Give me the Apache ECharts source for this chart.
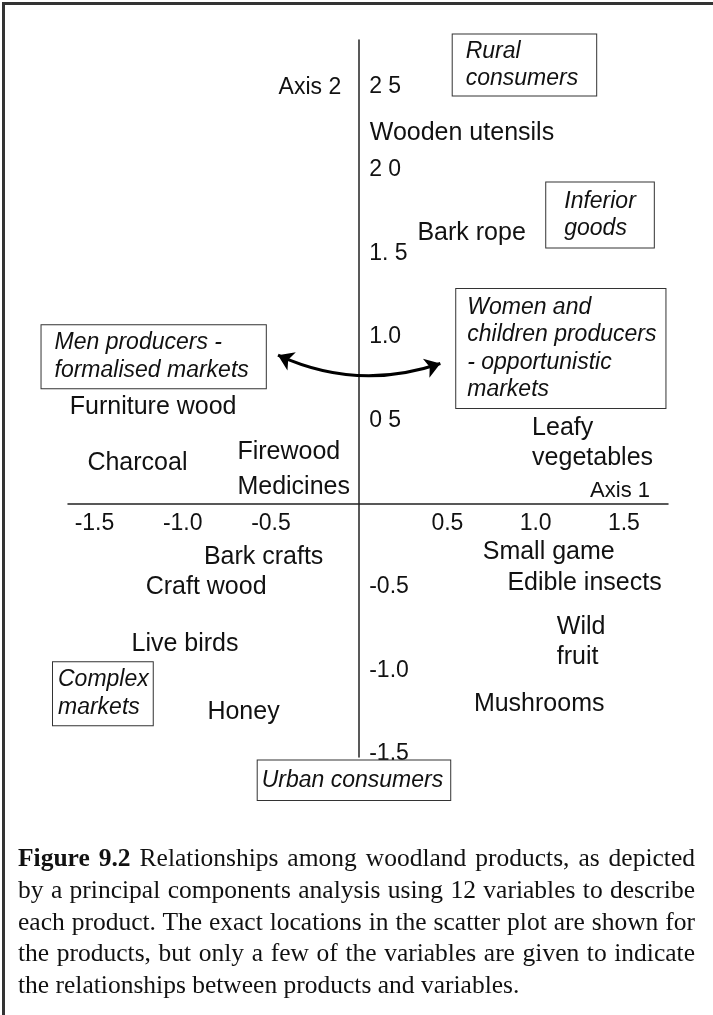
<!DOCTYPE html>
<html>
<head>
<meta charset="utf-8">
<script src="https://cdn.jsdelivr.net/npm/echarts@6/dist/echarts.min.js"></script>
<style>
  html, body { margin: 0; padding: 0; background: #fff; }
  #page { position: relative; width: 713px; height: 1015px; overflow: hidden; }
  #frame {
    position: absolute; left: 2px; top: 2px; right: -10px; bottom: -10px;
    border-top: 3px solid #333; border-left: 3px solid #333;
  }
  #chart { position: absolute; left: 0; top: 0; width: 713px; height: 1015px; }
  #caption {
    position: absolute; left: 18px; top: 842px; width: 677px;
    font-family: "Liberation Serif", "Times New Roman", serif;
    font-size: 25.5px; line-height: 31.8px; color: #111;
  }
  #caption div { text-align: justify; text-align-last: justify; white-space: nowrap; }
  #caption div.last { text-align-last: left; }
</style>
</head>
<body>
<div id="page">
  <div id="chart"></div>
  <div id="frame"></div>
  <div id="caption">
    <div><b>Figure 9.2</b> Relationships among woodland products, as depicted</div>
    <div>by a principal components analysis using 12 variables to describe</div>
    <div>each product. The exact locations in the scatter plot are shown for</div>
    <div>the products, but only a few of the variables are given to indicate</div>
    <div class="last">the relationships between products and variables.</div>
  </div>
</div>
<script>
// products: label text and PCA scores (axis 1, axis 2)
const products = ["Wooden utensils", "Bark rope", "Furniture wood", "Charcoal", "Firewood",
  "Medicines", "Leafy\nvegetables", "Bark crafts", "Craft wood", "Small game",
  "Edible insects", "Wild\nfruit", "Live birds", "Honey", "Mushrooms"];
const axis1 = [0.06, 0.33, -1.64, -1.54, -0.69, -0.69, 0.98, -0.88, -1.21, 0.70, 0.84, 1.12, -1.29, -0.86, 0.65];
const axis2 = [2.22, 1.62, 0.58, 0.24, 0.31, 0.10, 0.36, -0.32, -0.50, -0.29, -0.48, -0.83, -0.84, -1.25, -1.20];

// variables shown as boxed labels
const variables = ["Rural\nconsumers", "Inferior\ngoods", "Women and\nchildren producers\n- opportunistic\nmarkets",
  "Men producers -\nformalised markets", "Complex\nmarkets", "Urban consumers"];
const varAxis1 = [0.53, 1.06, 0.55, -1.80, -1.735, -0.575];
const varAxis2 = [2.63, 1.73, 0.93, 0.88, -1.14, -1.66];

// double arrow between the two producer groups
const arrowEnds = [[-0.46, 0.89], [0.46, 0.84]];

const xTicks = [-1.5, -1.0, -0.5, 0.5, 1.0, 1.5];
const xTickLabels = ["-1.5", "-1.0", "-0.5", "0.5", "1.0", "1.5"];
const yTicks = [2.5, 2.0, 1.5, 1.0, 0.5, -0.5, -1.0, -1.5];
const yTickLabels = ["2 5", "2 0", "1. 5", "1.0", "0 5", "-0.5", "-1.0", "-1.5"];

const sans = "'Liberation Sans', Arial, Helvetica, sans-serif";
const ink = "#111";

// box padding for each variable label [top, right, bottom, left]
const boxPadding = [[3, 18, 3, 13], [5, 18, 5, 18], [5, 9, 4, 11], [4, 17, 4, 13], [4, 4, 4, 5], [6, 7, 6, 4]];

const xMin = -1.65, xMax = 1.75, yMin = -1.52, yMax = 2.78;
const grid = { left: 68, right: 45, top: 40, bottom: 258 };
const plotW = 713 - grid.left - grid.right;
const plotH = 1015 - grid.top - grid.bottom;
// shift the axes so they cross at the origin, labels included
const yAxisOffset = -plotW * (0 - xMin) / (xMax - xMin);
const xAxisOffset = -plotH * (0 - yMin) / (yMax - yMin);

function tickText(ticks, labels) {
  return function (v) {
    const i = ticks.findIndex(t => Math.abs(t - v) < 1e-6);
    return i >= 0 ? labels[i] : "";
  };
}

const chart = echarts.init(document.getElementById("chart"));
chart.setOption({
  animation: false,
  backgroundColor: "transparent",
  grid: Object.assign({ outerBoundsMode: "none" }, grid),
  xAxis: {
    type: "value",
    min: xMin,
    max: xMax,
    offset: xAxisOffset,
    name: "Axis 1",
    nameLocation: "end",
    nameGap: -18,
    nameTextStyle: { fontFamily: sans, fontSize: 22, color: ink, align: "right", verticalAlign: "bottom", padding: [0, 0, 2, 0] },
    axisLine: { onZero: false, lineStyle: { color: "#222", width: 1.5 } },
    axisTick: { show: false },
    splitLine: { show: false },
    axisLabel: {
      customValues: xTicks,
      formatter: tickText(xTicks, xTickLabels),
      fontFamily: sans, fontSize: 23, color: ink, margin: 9
    }
  },
  yAxis: {
    type: "value",
    min: yMin,
    max: yMax,
    offset: yAxisOffset,
    name: "Axis 2",
    nameLocation: "end",
    nameGap: -48,
    nameTextStyle: { fontFamily: sans, fontSize: 23, color: ink, align: "right", verticalAlign: "middle", padding: [0, 18, 0, 0] },
    axisLine: { onZero: false, lineStyle: { color: "#222", width: 1.5 } },
    axisTick: { show: false },
    splitLine: { show: false },
    axisLabel: {
      inside: true,
      customValues: yTicks,
      formatter: tickText(yTicks, yTickLabels),
      fontFamily: sans, fontSize: 23, color: ink, margin: 10
    }
  },
  series: [
    {
      name: "products",
      type: "scatter",
      silent: true,
      clip: false,
      symbolSize: 1,
      itemStyle: { color: "rgba(0,0,0,0)", opacity: 1 },
      label: {
        show: true,
        formatter: "{b}",
        position: "inside",
        align: "left",
        verticalAlign: "middle",
        fontFamily: sans,
        fontSize: 25,
        lineHeight: 30,
        color: ink
      },
      data: products.map((n, i) => ({ name: n, value: [axis1[i], axis2[i]] }))
    },
    {
      name: "variables",
      type: "scatter",
      silent: true,
      clip: false,
      symbolSize: 1,
      itemStyle: { color: "rgba(0,0,0,0)", opacity: 1 },
      label: {
        show: true,
        formatter: "{b}",
        position: "inside",
        align: "left",
        verticalAlign: "middle",
        fontFamily: sans,
        fontStyle: "italic",
        fontSize: 23,
        lineHeight: 27.5,
        color: ink,
        backgroundColor: "#fff",
        borderColor: "#333",
        borderWidth: 1
      },
      data: variables.map((n, i) => ({
        name: n,
        value: [varAxis1[i], varAxis2[i]],
        label: { padding: boxPadding[i] }
      }))
    },
    {
      name: "arrow",
      type: "lines",
      coordinateSystem: "cartesian2d",
      silent: true,
      symbol: ["arrow", "arrow"],
      symbolSize: 15,
      lineStyle: { color: "#000", width: 3, curveness: -0.2, opacity: 1 },
      data: [{ coords: arrowEnds }]
    }
  ]
});
</script>
</body>
</html>
